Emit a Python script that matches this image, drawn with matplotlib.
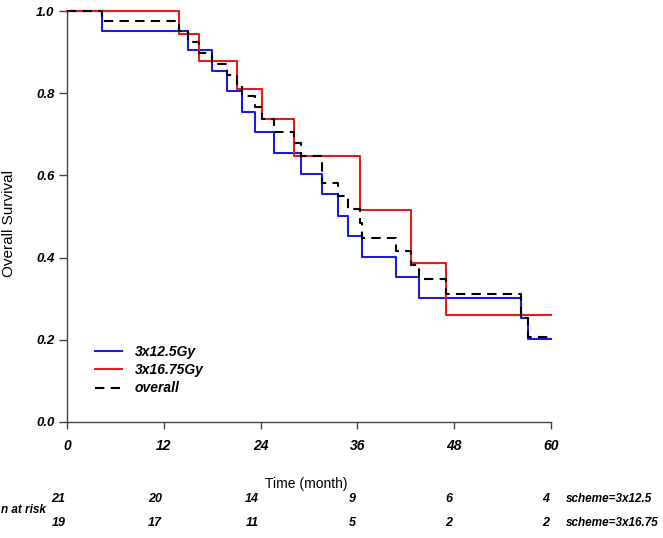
import matplotlib
matplotlib.use('Agg')
import matplotlib.pyplot as plt
from matplotlib.transforms import blended_transform_factory

plt.rcParams['font.family'] = ['Liberation Sans', 'DejaVu Sans']

# survival curves (step, post)
times_a = [0, 4.38, 15.04, 18.01, 19.87, 21.73, 23.3, 25.7, 28.97, 31.65, 33.56,
           34.8, 36.6, 40.78, 43.63, 56.24, 57.18, 60]
surv_a = [1.0, 0.952, 0.905, 0.855, 0.806, 0.755, 0.705, 0.654, 0.603, 0.554, 0.502,
          0.453, 0.402, 0.352, 0.302, 0.252, 0.203, 0.203]

times_b = [0, 13.88, 16.36, 21.04, 24.14, 28.18, 36.32, 42.64, 46.94, 60]
surv_b = [1.0, 0.944, 0.879, 0.810, 0.737, 0.646, 0.517, 0.388, 0.260, 0.260]

times_all = [0, 4.38, 13.88, 15.04, 16.36, 18.01, 19.87, 21.04, 21.73, 23.3, 24.14,
             25.7, 28.18, 28.97, 31.65, 33.56, 34.8, 36.32, 36.6, 40.78, 42.64,
             43.63, 46.94, 56.24, 57.18, 60]
surv_all = [1.0, 0.975, 0.952, 0.925, 0.898, 0.872, 0.845, 0.818, 0.793, 0.766, 0.737,
            0.706, 0.678, 0.647, 0.581, 0.55, 0.5175, 0.483, 0.448, 0.417, 0.382,
            0.347, 0.311, 0.254, 0.207, 0.207]

labels = ['3x12.5Gy', '3x16.75Gy', 'overall']

# number at risk table
risk_times = [0, 12, 24, 36, 48, 60]
risk_a = [21, 20, 14, 9, 6, 4]
risk_b = [19, 17, 11, 5, 2, 2]
risk_names = ['scheme=3x12.5', 'scheme=3x16.75']

fig = plt.figure(figsize=(6.63, 5.38), dpi=100)
ax = fig.add_axes([67/663, 1-422/538, 484/663, 411/538])

ax.step(times_a, surv_a, where='post', color='#1c1ce0', lw=1.5, label=labels[0], clip_on=False)
ax.step(times_b, surv_b, where='post', color='#e61c1c', lw=1.5, label=labels[1], clip_on=False)
ax.step(times_all, surv_all, where='post', color='black', lw=1.5, dashes=(4.5, 3),
        label=labels[2], clip_on=False)

ax.set_xlim(0, 60)
ax.set_ylim(0, 1)
ax.set_xticks(risk_times)
ax.set_yticks([0, 0.2, 0.4, 0.6, 0.8, 1.0])
ax.set_yticklabels(['0.0', '0.2', '0.4', '0.6', '0.8', '1.0'])
for s in ['top', 'right']:
    ax.spines[s].set_visible(False)
for s in ['left', 'bottom']:
    ax.spines[s].set_color('#444444')
    ax.spines[s].set_linewidth(1.0)
ax.tick_params(axis='y', length=6, width=1, color='#444444', pad=3, labelsize=9.5)
ax.tick_params(axis='x', length=5, width=1, color='#444444', pad=7, labelsize=10)
for t in ax.get_xticklabels() + ax.get_yticklabels():
    t.set_fontweight('bold')
    t.set_fontstyle('italic')

leg = ax.legend(loc='upper left', bbox_to_anchor=(0.058, 0.187), frameon=False,
                borderaxespad=0, borderpad=0, handlelength=1.95, handletextpad=0.9,
                labelspacing=0.3, prop={'size': 10, 'weight': 'bold', 'style': 'italic'})

fig.text(9/663, 1-223/538, 'Overall Survival', rotation=90, ha='center', va='center', fontsize=11)
fig.text(306/663, 1-484/538, 'Time (month)', ha='center', va='center', fontsize=10)

tr = blended_transform_factory(ax.transData, fig.transFigure)
for i, t in enumerate(risk_times):
    ax.text(t - 0.2, 1-502.5/538, str(risk_a[i]), transform=tr, ha='right', va='baseline',
            fontsize=9, fontweight='bold', fontstyle='italic')
    ax.text(t - 0.2, 1-526/538, str(risk_b[i]), transform=tr, ha='right', va='baseline',
            fontsize=9, fontweight='bold', fontstyle='italic')
fig.text(566/663, 1-502.5/538, risk_names[0], ha='left', va='baseline',
         fontsize=8.5, fontweight='bold', fontstyle='italic')
fig.text(566/663, 1-526/538, risk_names[1], ha='left', va='baseline',
         fontsize=8.5, fontweight='bold', fontstyle='italic')
fig.text(1/663, 1-513/538, 'n at risk', ha='left', va='baseline', fontsize=8.5,
         fontweight='bold', fontstyle='italic')

fig.savefig('out.png', dpi=100)
